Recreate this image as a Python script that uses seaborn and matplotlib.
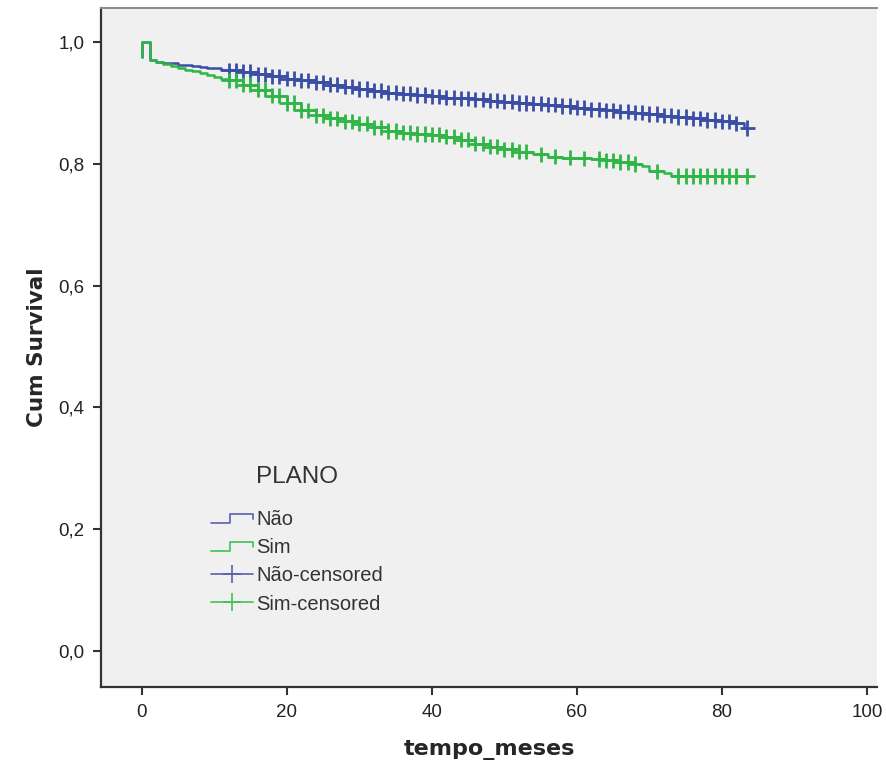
import numpy as np
import pandas as pd
import seaborn as sns
import matplotlib
matplotlib.use('Agg')
from matplotlib import pyplot as plt
from matplotlib.lines import Line2D
from matplotlib.legend_handler import HandlerBase

# Kaplan-Meier steps (time in months, cumulative survival)
nao_time = [0, 0, 1.2, 2, 3, 4, 5, 6, 7, 8, 9, 10, 11, 12, 14, 16, 18, 20, 22, 24, 26,
            28, 30, 32, 34, 36, 38, 40, 42, 44, 46, 48, 50, 52, 54, 56, 58, 60, 62, 64,
            66, 68, 70, 72, 74, 76, 78, 80, 82, 83, 83.6]
nao_surv = [0.975, 1.0, 0.970, 0.968, 0.966, 0.965, 0.963, 0.962, 0.961, 0.959, 0.958,
            0.957, 0.955, 0.954, 0.951, 0.947, 0.944, 0.940, 0.937, 0.934, 0.930, 0.927,
            0.923, 0.920, 0.917, 0.915, 0.913, 0.911, 0.909, 0.908, 0.906, 0.904, 0.902,
            0.900, 0.899, 0.897, 0.895, 0.892, 0.890, 0.888, 0.886, 0.884, 0.882, 0.879,
            0.877, 0.875, 0.872, 0.870, 0.867, 0.859, 0.859]
sim_time = [0, 0, 1.2, 2, 3, 4, 5, 6, 7, 8, 9, 10, 11, 12, 14, 16, 18, 20, 22, 24, 26,
            28, 30, 32, 34, 36, 38, 40, 42, 44, 46, 48, 50, 52, 54, 56, 58, 60, 62, 64,
            66, 68, 69, 70, 72, 73, 83.6]
sim_surv = [0.975, 1.0, 0.970, 0.967, 0.964, 0.961, 0.958, 0.955, 0.952, 0.949, 0.946,
            0.943, 0.940, 0.937, 0.930, 0.922, 0.912, 0.900, 0.888, 0.880, 0.875, 0.870,
            0.866, 0.860, 0.854, 0.851, 0.849, 0.848, 0.845, 0.840, 0.833, 0.828, 0.824,
            0.820, 0.816, 0.812, 0.810, 0.809, 0.808, 0.806, 0.803, 0.800, 0.797, 0.788,
            0.785, 0.780, 0.780]

# censored observations
nao_cens = [12, 13, 14, 15, 16, 17, 18, 19, 20, 21, 22, 23, 24, 25, 26, 27, 28, 29, 30,
            31, 32, 33, 34, 35, 36, 37, 38, 39, 40, 41, 42, 43, 44, 45, 46, 47, 48, 49,
            50, 51, 52, 53, 54, 55, 56, 57, 58, 59, 60, 61, 62, 63, 64, 65, 66, 67, 68,
            69, 70, 71, 72, 73, 74, 75, 76, 77, 78, 79, 80, 81, 82, 83.5]
sim_cens = [12, 13, 14, 15, 16, 17, 18, 19, 20, 21, 22, 23, 24, 25, 26, 27, 28, 29, 30,
            31, 32, 33, 34, 35, 36, 37, 38, 39, 40, 41, 42, 43, 44, 45, 46, 47, 48, 49,
            50, 51, 52, 53, 55, 57, 59, 61, 63, 64, 65, 66, 67, 68, 71, 74, 75, 76, 77,
            78, 79, 80, 81, 82, 83.5]

groups = ['Não', 'Sim']
colors = {'Não': '#3b4ea6', 'Sim': '#2fb646'}

curves = pd.concat([
    pd.DataFrame({'tempo': nao_time, 'surv': nao_surv, 'PLANO': 'Não'}),
    pd.DataFrame({'tempo': sim_time, 'surv': sim_surv, 'PLANO': 'Sim'}),
], ignore_index=True)


def at_step(times, survs, t):
    idx = np.searchsorted(times, t, side='right') - 1
    return np.asarray(survs)[idx]


cens = pd.concat([
    pd.DataFrame({'tempo': nao_cens, 'surv': at_step(nao_time, nao_surv, nao_cens), 'PLANO': 'Não'}),
    pd.DataFrame({'tempo': sim_cens, 'surv': at_step(sim_time, sim_surv, sim_cens), 'PLANO': 'Sim'}),
], ignore_index=True)

sns.set_style('ticks')
plt.rcParams['font.family'] = ['Liberation Sans', 'DejaVu Sans']

fig = plt.figure(figsize=(8.87, 7.79), dpi=100)
ax = fig.add_axes([0.1139, 0.1181, 0.875, 0.8716])
ax.set_facecolor('#f0f0f0')

sns.lineplot(data=curves, x='tempo', y='surv', hue='PLANO', palette=colors,
             estimator=None, sort=False, drawstyle='steps-post', lw=1.8,
             legend=False, ax=ax)
sns.scatterplot(data=cens, x='tempo', y='surv', hue='PLANO', palette=colors,
                marker='+', s=120, linewidth=2.0, legend=False, ax=ax, zorder=3)

ax.set_xlim(-5.6, 101.4)
ax.set_ylim(-0.059, 1.056)
ax.set_xticks([0, 20, 40, 60, 80, 100])
ax.set_xticklabels(['0', '20', '40', '60', '80', '100'])
ax.set_yticks([0, 0.2, 0.4, 0.6, 0.8, 1.0])
ax.set_yticklabels(['0,0', '0,2', '0,4', '0,6', '0,8', '1,0'])
ax.tick_params(axis='both', direction='out', length=6, width=1.5, color='#333333',
               labelsize=13.5, labelcolor='#222222', pad=6)

for s in ['left', 'bottom']:
    ax.spines[s].set_color('#333333')
    ax.spines[s].set_linewidth(1.6)
ax.spines['top'].set_color('#8a8a8a')
ax.spines['top'].set_linewidth(1.4)
ax.spines['right'].set_visible(False)

ax.set_xlabel('tempo_meses', family='DejaVu Sans', fontsize=16, fontweight='bold',
              labelpad=14)
ax.set_ylabel('Cum Survival', family='DejaVu Sans', fontsize=15.5, fontweight='bold',
              labelpad=8)


class StepHandler(HandlerBase):
    def create_artists(self, legend, orig_handle, xdescent, ydescent, width, height,
                       fontsize, trans):
        x0, y0 = -xdescent, -ydescent
        xs = [x0, x0 + 0.45 * width, x0 + 0.45 * width, x0 + width, x0 + width]
        ys = [y0 + 0.2 * height, y0 + 0.2 * height, y0 + 0.8 * height,
              y0 + 0.8 * height, y0 + 0.45 * height]
        return [Line2D(xs, ys, color=orig_handle.get_color(), lw=1.2, transform=trans)]


step_nao = Line2D([], [], color='#5a5fb0')
step_sim = Line2D([], [], color='#44c257')
cens_nao = Line2D([0], [0], color='#5a5fb0', lw=1.2, marker='+', markersize=13,
                  markeredgewidth=1.2)
cens_sim = Line2D([0], [0], color='#44c257', lw=1.2, marker='+', markersize=13,
                  markeredgewidth=1.2)

leg = ax.legend([step_nao, step_sim, cens_nao, cens_sim],
                ['Não', 'Sim', 'Não-censored', 'Sim-censored'],
                handler_map={step_nao: StepHandler(), step_sim: StepHandler()},
                title='PLANO', loc='upper left', bbox_to_anchor=(0.118, 0.352),
                frameon=False, fontsize=14.5, title_fontsize=17.5, numpoints=1,
                handlelength=2.1, handletextpad=0.15, labelspacing=0.45)
leg.get_title().set_color('#333333')
leg._legend_box.sep = 16
for t in leg.get_texts():
    t.set_color('#333333')

fig.savefig('out.png', dpi=100)
